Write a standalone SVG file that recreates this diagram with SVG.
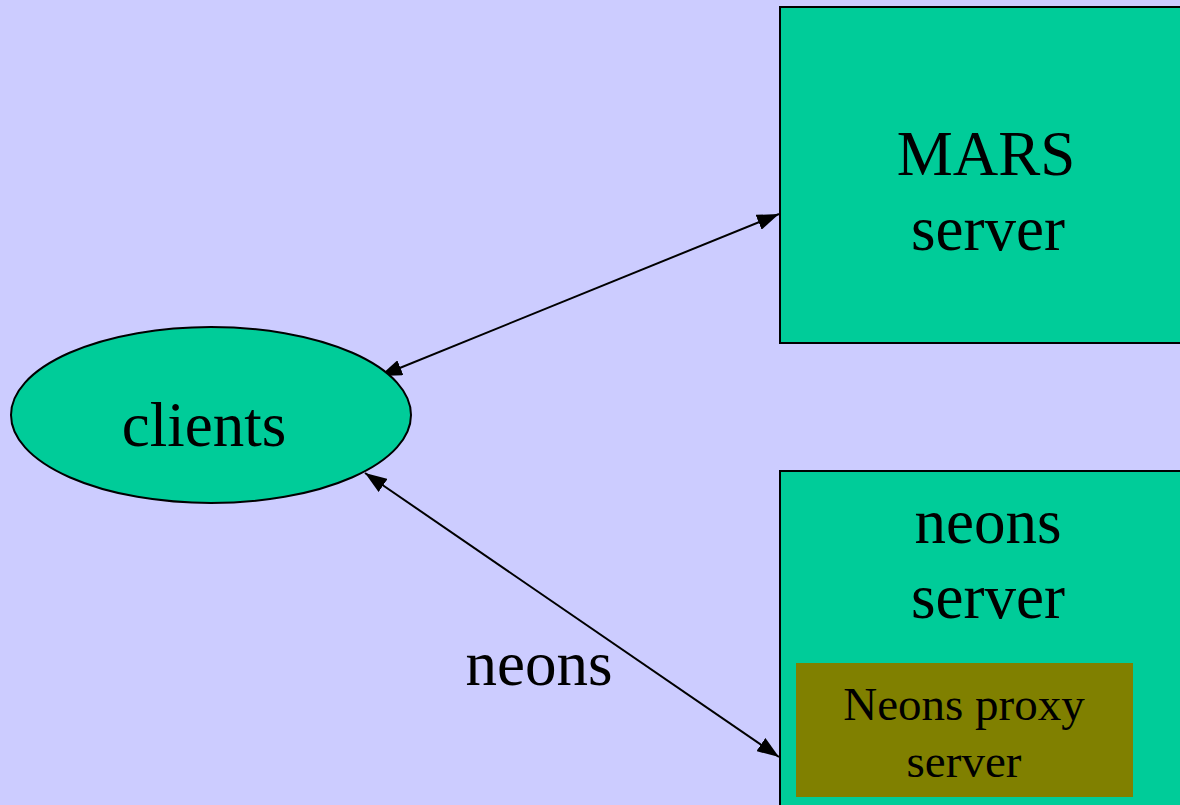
<svg xmlns="http://www.w3.org/2000/svg" width="1180" height="805" viewBox="0 0 1180 805">
  <defs>
    <style>
      .lbl { font-family: "Liberation Serif", "Times New Roman", serif; fill: #000; text-anchor: middle; }
      .big { font-size: 63px; }
      .small { font-size: 47px; }
      .box { fill: #00CC99; stroke: #000; stroke-width: 2; }
      .link { stroke: #000; stroke-width: 2; fill: none; marker-start: url(#head); marker-end: url(#head); }
    </style>
    <marker id="head" viewBox="0 0 22 16" refX="22" refY="8" markerWidth="22" markerHeight="16" markerUnits="userSpaceOnUse" orient="auto-start-reverse">
      <path d="M0,0 L22,8 L0,16 Z" fill="#000"/>
    </marker>
  </defs>

  <rect x="0" y="0" width="1180" height="805" fill="#CCCCFF"/>

  <g id="connectors">
    <line class="link" x1="380" y1="376" x2="779" y2="214"/>
    <line class="link" x1="365" y1="473" x2="779" y2="757"/>
    <text class="lbl big" x="539" y="685">neons</text>
  </g>

  <g id="mars-server">
    <rect class="box" x="780" y="7" width="420" height="336"/>
    <text class="lbl big" x="986" y="175">MARS</text>
    <text class="lbl big" x="988" y="250">server</text>
  </g>

  <g id="clients">
    <ellipse cx="211" cy="415" rx="200" ry="88" fill="#00CC99" stroke="#000" stroke-width="2"/>
    <text class="lbl big" x="204" y="446">clients</text>
  </g>

  <g id="neons-server">
    <rect class="box" x="780" y="471" width="420" height="350"/>
    <text class="lbl big" x="988" y="543">neons</text>
    <text class="lbl big" x="988" y="618">server</text>
  </g>

  <g id="neons-proxy">
    <rect x="796" y="663" width="337" height="134" fill="#808000"/>
    <text class="lbl small" x="964" y="720">Neons proxy</text>
    <text class="lbl small" x="964" y="777">server</text>
  </g>
</svg>
